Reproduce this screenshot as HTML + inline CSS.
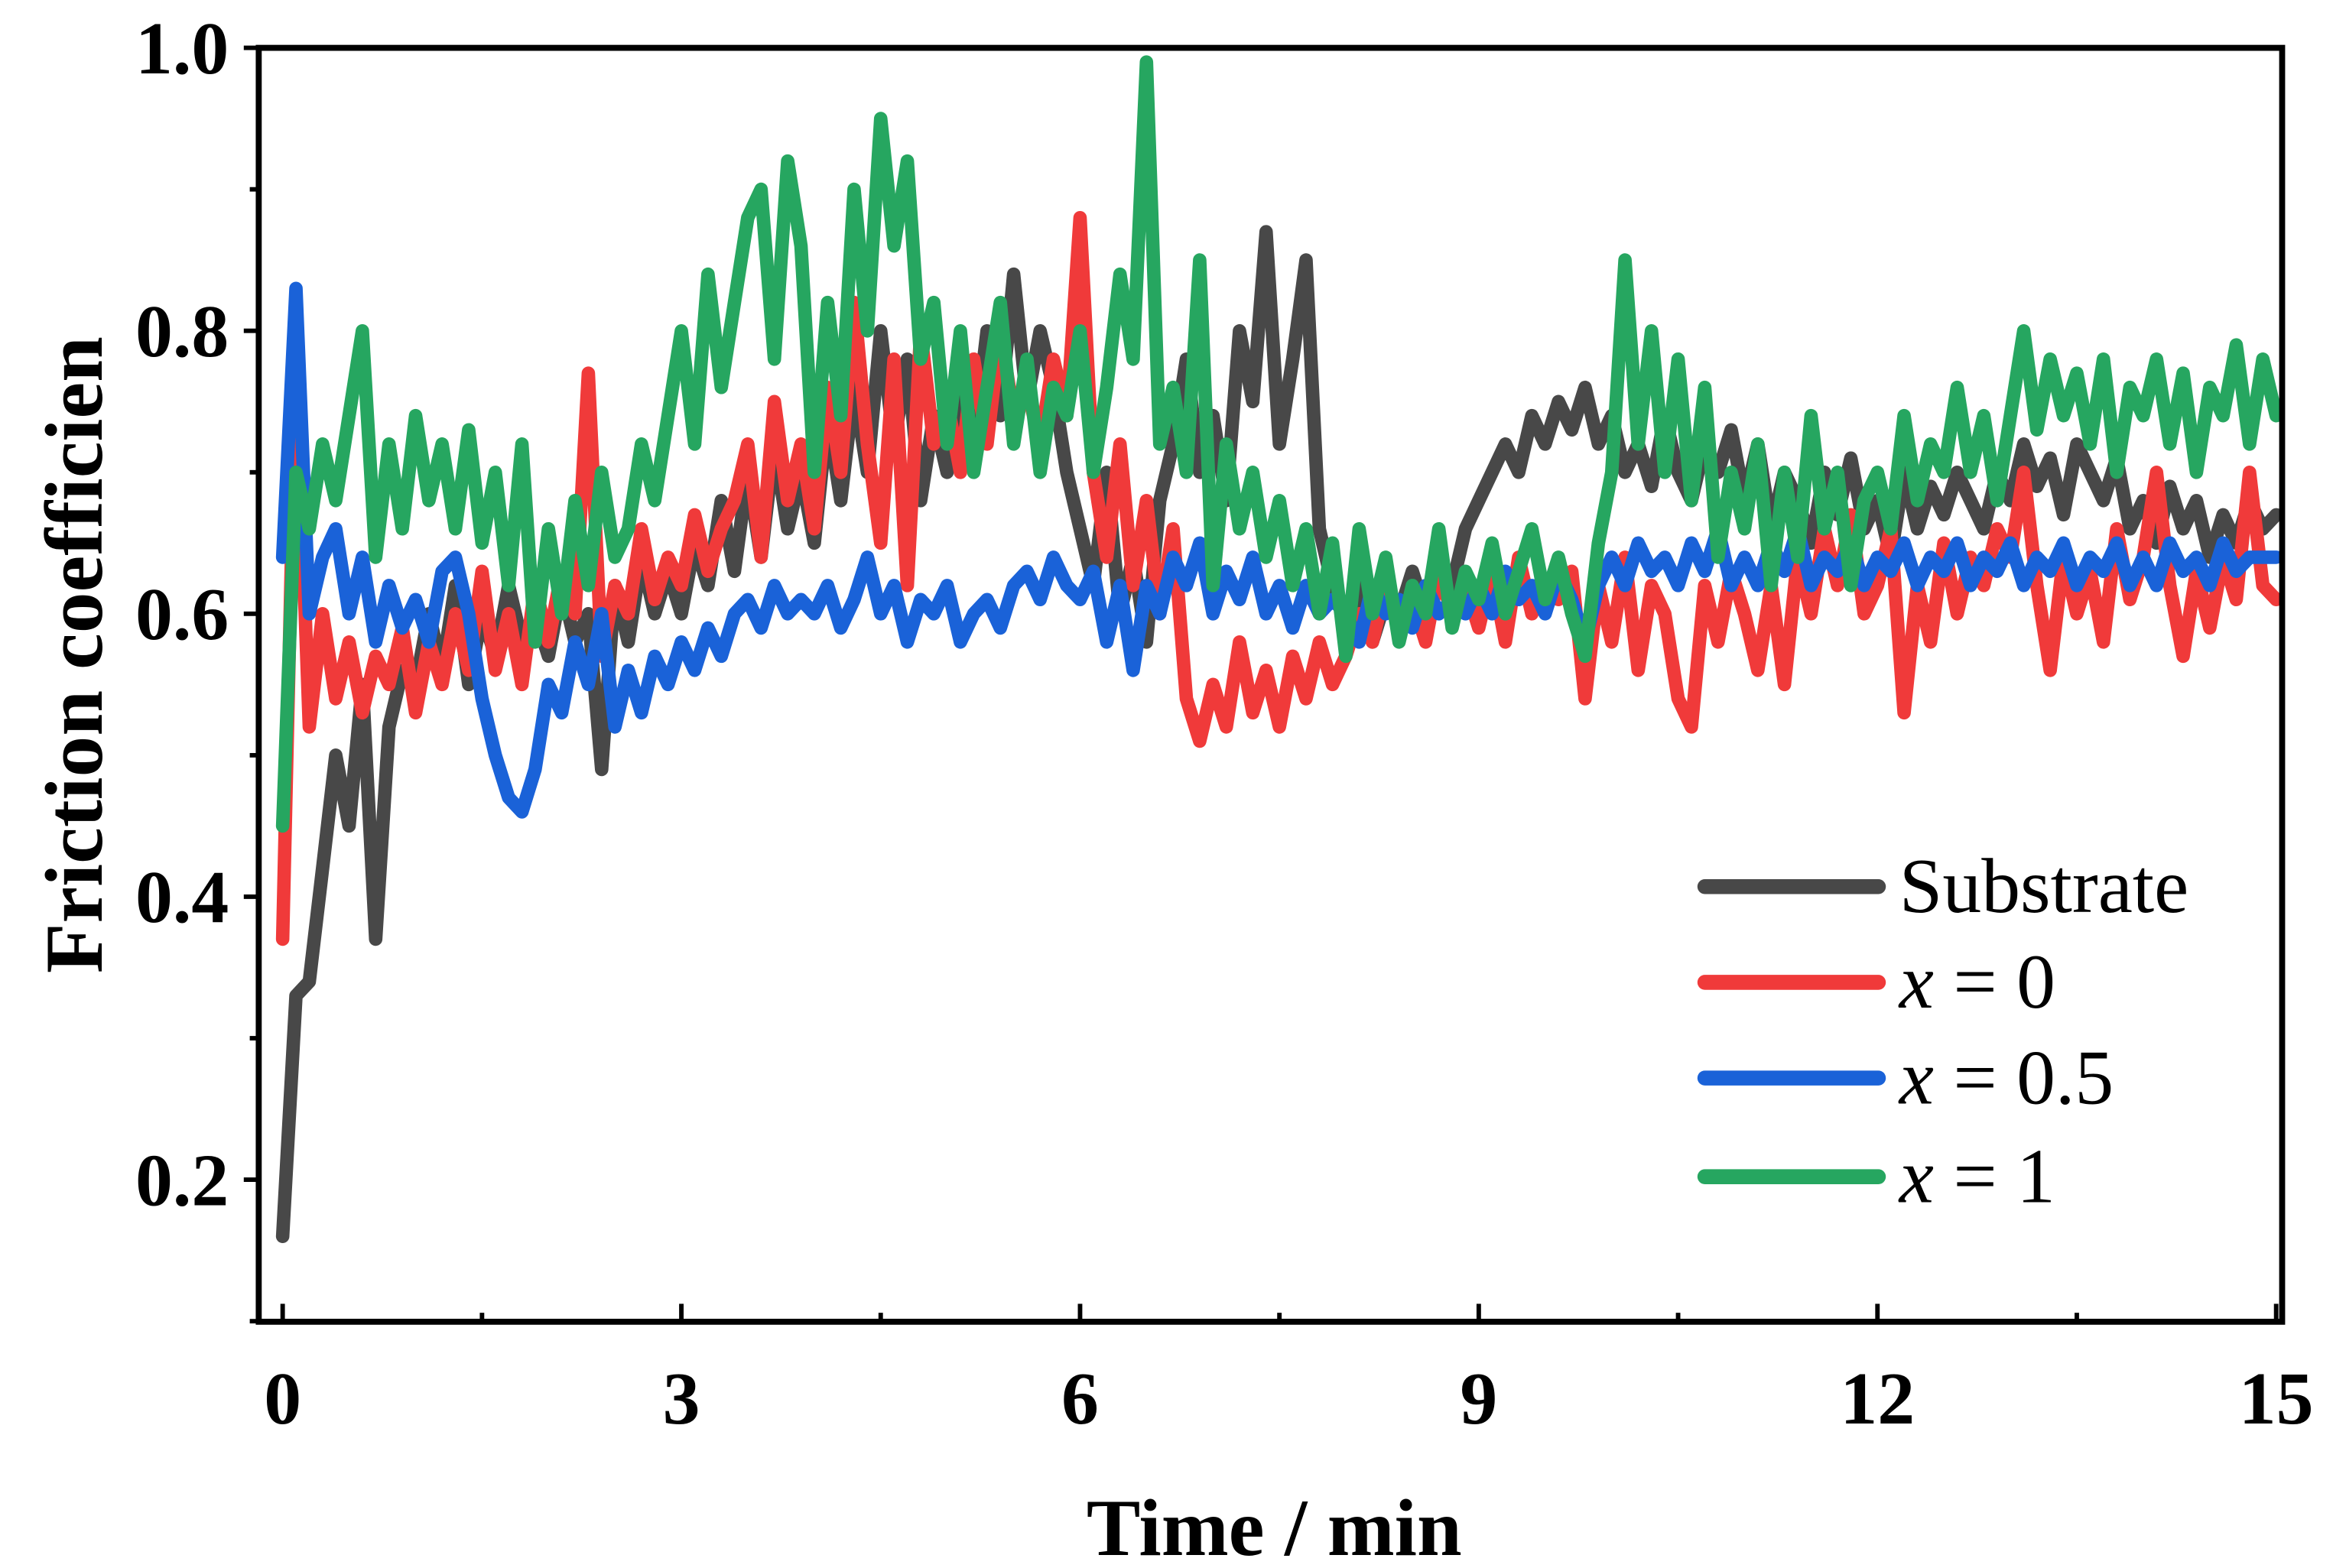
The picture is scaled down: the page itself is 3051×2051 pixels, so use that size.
<!DOCTYPE html>
<html><head><meta charset="utf-8"><style>html,body{margin:0;padding:0;background:#fff}svg{display:block}</style></head>
<body>
<svg id="chart" width="3051" height="2051" viewBox="0 0 1560 1048.7" xmlns="http://www.w3.org/2000/svg" font-family="Liberation Serif, serif" font-weight="bold">
<rect x="0" y="0" width="1560" height="1049" fill="#fff"/>
<g id="series"></g>
<g id="axes"></g>
<g id="legend"></g>
<text x="852" y="1040" text-anchor="middle" font-size="54">Time / min</text>
<text transform="translate(68,438) rotate(-90)" text-anchor="middle" font-size="55">Friction coefficien</text>
</svg>
<script>
const xTicks = [0,3,6,9,12,15];
const xTickLabels = ["0","3","6","9","12","15"];
const yTicks = [0.2,0.4,0.6,0.8,1.0];
const yTickLabels = ["0.2","0.4","0.6","0.8","1.0"];
const seriesNames = ["Substrate","x = 0","x = 0.5","x = 1"];
const substrate = [0.16,0.33,0.34,0.42,0.50,0.45,0.55,0.37,0.52,0.56,
0.55,0.60,0.56,0.62,0.55,0.60,0.57,0.62,0.58,0.60,
0.57,0.62,0.58,0.60,0.49,0.62,0.58,0.64,0.60,0.63,
0.60,0.65,0.62,0.68,0.63,0.70,0.64,0.72,0.66,0.70,
0.65,0.74,0.68,0.76,0.70,0.80,0.72,0.78,0.68,0.74,
0.70,0.78,0.72,0.80,0.74,0.84,0.75,0.80,0.76,0.70,
0.66,0.62,0.70,0.60,0.64,0.58,0.68,0.72,0.78,0.70,
0.74,0.68,0.80,0.75,0.87,0.72,0.78,0.85,0.66,0.62,
0.60,0.62,0.58,0.61,0.60,0.63,0.60,0.64,0.62,0.66,
0.68,0.70,0.72,0.70,0.74,0.72,0.75,0.73,0.76,0.72,
0.74,0.70,0.72,0.69,0.74,0.70,0.68,0.72,0.70,0.73,
0.68,0.72,0.66,0.70,0.68,0.65,0.70,0.67,0.71,0.66,
0.68,0.64,0.70,0.66,0.69,0.67,0.70,0.68,0.66,0.70,
0.68,0.72,0.69,0.71,0.67,0.72,0.70,0.68,0.71,0.66,
0.68,0.65,0.69,0.66,0.68,0.64,0.67,0.65,0.68,0.66,0.67];
const x0 = [0.37,0.78,0.52,0.60,0.54,0.58,0.53,0.57,0.55,0.59,
0.53,0.58,0.55,0.60,0.56,0.63,0.56,0.60,0.55,0.62,
0.58,0.63,0.60,0.77,0.57,0.62,0.60,0.66,0.61,0.64,
0.62,0.67,0.63,0.66,0.68,0.72,0.64,0.75,0.68,0.72,
0.66,0.76,0.70,0.82,0.72,0.65,0.78,0.62,0.80,0.72,
0.75,0.70,0.78,0.72,0.80,0.74,0.76,0.72,0.78,0.74,
0.88,0.70,0.64,0.72,0.62,0.68,0.60,0.66,0.54,0.51,
0.55,0.52,0.58,0.53,0.56,0.52,0.57,0.54,0.58,0.55,
0.57,0.60,0.58,0.62,0.59,0.61,0.58,0.63,0.60,0.62,
0.59,0.63,0.58,0.64,0.60,0.62,0.61,0.63,0.54,0.62,
0.58,0.64,0.56,0.62,0.60,0.54,0.52,0.62,0.58,0.63,
0.60,0.56,0.62,0.55,0.64,0.60,0.66,0.62,0.67,0.60,
0.62,0.66,0.53,0.62,0.58,0.65,0.60,0.64,0.62,0.66,
0.64,0.70,0.62,0.56,0.64,0.60,0.63,0.58,0.66,0.61,
0.64,0.70,0.62,0.57,0.63,0.59,0.64,0.61,0.70,0.62,0.61];
const x05 = [0.64,0.83,0.60,0.64,0.66,0.60,0.64,0.58,0.62,0.59,
0.61,0.58,0.63,0.64,0.60,0.54,0.50,0.47,0.46,0.49,
0.55,0.53,0.58,0.55,0.60,0.52,0.56,0.53,0.57,0.55,
0.58,0.56,0.59,0.57,0.60,0.61,0.59,0.62,0.60,0.61,
0.60,0.62,0.59,0.61,0.64,0.60,0.62,0.58,0.61,0.60,
0.62,0.58,0.60,0.61,0.59,0.62,0.63,0.61,0.64,0.62,
0.61,0.63,0.58,0.62,0.56,0.62,0.60,0.64,0.62,0.65,
0.60,0.63,0.61,0.64,0.60,0.62,0.59,0.62,0.60,0.61,
0.60,0.58,0.62,0.60,0.61,0.59,0.62,0.60,0.61,0.60,
0.62,0.60,0.63,0.61,0.62,0.60,0.63,0.61,0.58,0.62,
0.64,0.62,0.65,0.63,0.64,0.62,0.65,0.63,0.66,0.62,
0.64,0.62,0.65,0.63,0.66,0.62,0.64,0.63,0.65,0.62,
0.64,0.63,0.65,0.62,0.64,0.63,0.65,0.62,0.64,0.63,
0.65,0.62,0.64,0.63,0.65,0.62,0.64,0.63,0.65,0.62,
0.64,0.62,0.65,0.63,0.64,0.62,0.65,0.63,0.64,0.64,0.64];
const x1 = [0.45,0.70,0.66,0.72,0.68,0.74,0.80,0.64,0.72,0.66,
0.74,0.68,0.72,0.66,0.73,0.65,0.70,0.62,0.72,0.58,
0.66,0.60,0.68,0.62,0.70,0.64,0.66,0.72,0.68,0.74,
0.80,0.72,0.84,0.76,0.82,0.88,0.90,0.78,0.92,0.86,
0.70,0.82,0.74,0.90,0.80,0.95,0.86,0.92,0.78,0.82,
0.72,0.80,0.70,0.76,0.82,0.72,0.78,0.70,0.76,0.74,
0.80,0.70,0.76,0.84,0.78,0.99,0.72,0.76,0.70,0.85,
0.62,0.72,0.66,0.70,0.64,0.68,0.62,0.66,0.60,0.65,
0.57,0.66,0.60,0.64,0.58,0.62,0.60,0.66,0.59,0.63,
0.61,0.65,0.60,0.63,0.66,0.61,0.64,0.60,0.57,0.65,
0.70,0.85,0.72,0.80,0.70,0.78,0.68,0.76,0.64,0.70,
0.66,0.72,0.62,0.70,0.64,0.74,0.66,0.70,0.62,0.68,
0.70,0.66,0.74,0.68,0.72,0.70,0.76,0.70,0.74,0.68,
0.74,0.80,0.73,0.78,0.74,0.77,0.72,0.78,0.70,0.76,
0.74,0.78,0.72,0.77,0.70,0.76,0.74,0.79,0.72,0.78,0.74];
const timeStep = 0.1;

const NS='http://www.w3.org/2000/svg';
const L=173,R=1526,T=32,B=884;
function xs(t){return 189+(t)*(1522-189)/15;}
function ys(v){return 789-(v-0.2)*(789-32)/0.8;}
function mk(tag,attrs,parent){const e=document.createElementNS(NS,tag);for(const k in attrs)e.setAttribute(k,attrs[k]);parent.appendChild(e);return e;}

const colors=["#484848","#f03a3a","#1a62d8","#26a660"];
const sg=document.getElementById('series');
const allData=[substrate,x0,x05,x1];
const keys=["substrate","x-0","x-0-5","x-1"];
allData.forEach((arr,si)=>{
  const pts=arr.map((v,i)=>xs(i*timeStep).toFixed(1)+','+ys(v).toFixed(1)).join(' ');
  const pl=mk('polyline',{points:pts,fill:'none',stroke:colors[si],'stroke-width':9,'stroke-linejoin':'round','stroke-linecap':'round'},sg);
  
  
});

const ax=document.getElementById('axes');
const frame=mk('rect',{x:L,y:T,width:R-L,height:B-T,fill:'none',stroke:'#000','stroke-width':4},ax);


xTicks.forEach((t,i)=>{
  const tk=mk('line',{x1:xs(t),x2:xs(t),y1:B,y2:B-12,stroke:'#000','stroke-width':3},ax);
  
  
  const lb=mk('text',{x:xs(t),y:952,'text-anchor':'middle','font-size':50},ax);
  lb.textContent=xTickLabels[i];
  
  
  if(i<xTicks.length-1){
    const mt=mk('line',{x1:xs(t+1.5),x2:xs(t+1.5),y1:B,y2:B-6,stroke:'#000','stroke-width':3},ax);
    
    
  }
});
yTicks.forEach((v,i)=>{
  const tk=mk('line',{x1:L,x2:L-10,y1:ys(v),y2:ys(v),stroke:'#000','stroke-width':3},ax);
  
  
  const lb=mk('text',{x:153,y:ys(v)+17,'text-anchor':'end','font-size':50},ax);
  lb.textContent=yTickLabels[i];
  
  
  const mt=mk('line',{x1:L,x2:L-6,y1:ys(v-0.1),y2:ys(v-0.1),stroke:'#000','stroke-width':3},ax);
  
  
});

const lg=document.getElementById('legend');
const ly=[593,657,721,787];
seriesNames.forEach((n,i)=>{
  const ln=mk('line',{x1:1140,x2:1256,y1:ly[i],y2:ly[i],stroke:colors[i],'stroke-width':10,'stroke-linecap':'round'},lg);
  
  
  const tx=mk('text',{x:1270,y:ly[i]+17,'font-size':52,'font-weight':'normal'},lg);
  if(i===0){tx.textContent=n;}
  else{
    const it=mk('tspan',{'font-style':'italic'},tx);it.textContent='x';
    const rest=mk('tspan',{},tx);rest.textContent=n.slice(1);
  }
  
  
});
</script>
</body></html>
